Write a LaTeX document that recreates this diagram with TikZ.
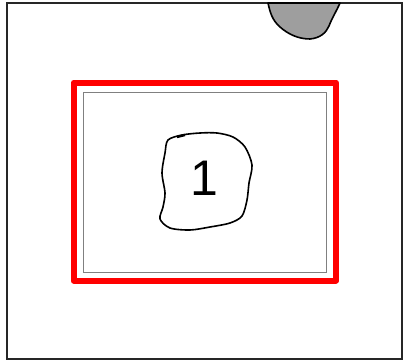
\documentclass[tikz,border=0pt]{standalone}
\usepackage{fontspec}
\setmainfont{Liberation Sans}
\begin{document}
\begin{tikzpicture}[x=1pt,y=-1pt,
  frame/.style={draw=black!85,line width=2.2pt},
  redframe/.style={draw=red,line width=6pt,line join=round},
  inner/.style={draw=black!50,line width=1pt},
  blob/.style={draw=black,line width=1.6pt,line join=round}]
\useasboundingbox (0,0) rectangle (414,361);
\fill[white] (0,0) rectangle (414,361);
\draw[frame] (7,3) rectangle (402,359);
% top blob
\draw[blob,fill=black!38] (268,3) .. controls (270,12) and (272,20) .. (280,27)
  .. controls (288,34) and (298,39) .. (310,39)
  .. controls (320,38) and (326,33) .. (329,26)
  .. controls (332,18) and (336,12) .. (340,3) -- cycle;
\draw[redframe] (73.5,82.5) rectangle (336,280.5);
\draw[inner] (83,92) rectangle (326,272);
% centre blob
\draw[blob] plot[smooth cycle,tension=0.5] coordinates {(168,140) (182,135) (200,133) (217,133) (233,137) (245,147) (252,165) (249,183) (247,200) (242,216) (230,223) (210,227) (190,230) (170,228) (160,219) (163,207) (165,193) (162,173) (165,153)};
\draw[line width=2.4pt] (177,137) -- (185,135);
\node[font=\fontsize{50}{50}\selectfont] (one) at (204,178) {1};
\end{tikzpicture}
\end{document}
